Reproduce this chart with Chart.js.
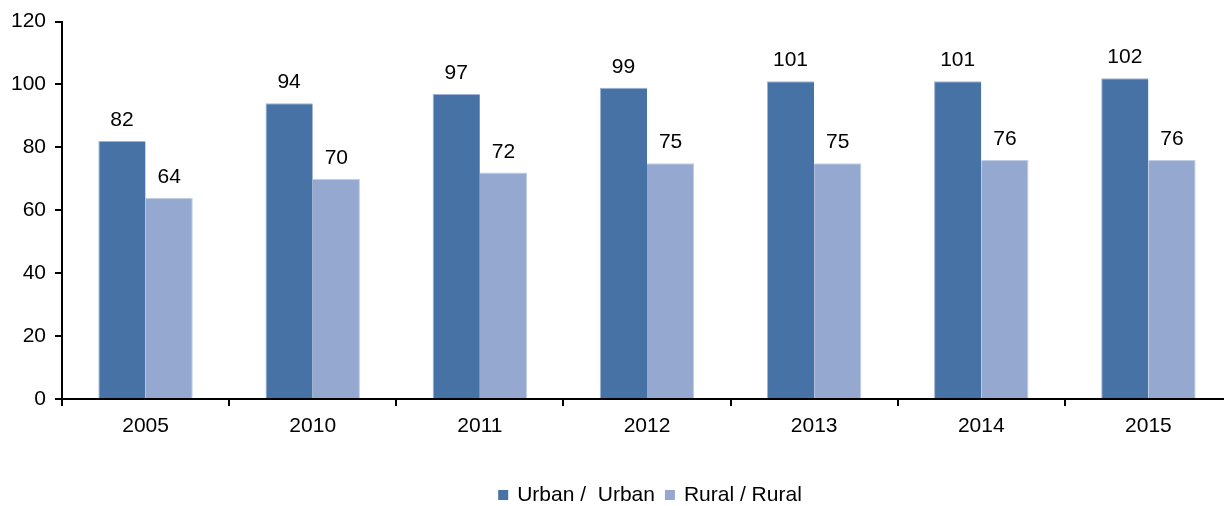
<!DOCTYPE html>
<html>
<head>
<meta charset="utf-8">
<script src="https://cdn.jsdelivr.net/npm/chart.js@4"></script>
<style>
  html, body { margin: 0; padding: 0; background: #fff; overflow: hidden; }
  #wrap { width: 1224px; height: 506px; overflow: hidden; }
  #c { display: block; }
</style>
</head>
<body>
<div id="wrap"><canvas id="c" width="1232" height="506"></canvas></div>
<script>
const categories = ["2005", "2010", "2011", "2012", "2013", "2014", "2015"];
const urbanValues = [82, 94, 97, 99, 101, 101, 102];
const ruralValues = [64, 70, 72, 75, 75, 76, 76];
const seriesNames = ["Urban /  Urban", "Rural / Rural"];
const yTicks = [0, 20, 40, 60, 80, 100, 120];

const FONT = "'Liberation Sans', Arial, sans-serif";
const FS = 21;

const dataLabels = {
  id: 'dataLabels',
  afterDatasetsDraw(chart) {
    const ctx = chart.ctx;
    ctx.save();
    ctx.font = FS + 'px ' + FONT;
    ctx.fillStyle = '#000';
    ctx.textAlign = 'center';
    ctx.textBaseline = 'alphabetic';
    chart.data.datasets.forEach((ds, i) => {
      const meta = chart.getDatasetMeta(i);
      meta.data.forEach((bar, j) => {
        ctx.fillText(String(ds.data[j]), bar.x, bar.y - 15);
      });
    });
    ctx.restore();
  }
};

const customLegend = {
  id: 'customLegend',
  afterDraw(chart) {
    const ctx = chart.ctx;
    ctx.save();
    ctx.font = FS + 'px ' + FONT;
    ctx.textBaseline = 'middle';
    ctx.textAlign = 'left';
    const box = 10, gapText = 9, gapItem = 10;
    const items = chart.data.datasets.map(ds => ({ text: ds.label, color: ds.backgroundColor, w: ctx.measureText(ds.label).width }));
    let total = 0;
    items.forEach((it, k) => { total += box + gapText + it.w + (k < items.length - 1 ? gapItem : 0); });
    let x = 650 - total / 2;
    const y = 495;
    items.forEach(it => {
      ctx.fillStyle = it.color;
      ctx.fillRect(x, y - 5, box, box);
      x += box + gapText;
      ctx.fillStyle = '#000';
      ctx.fillText(it.text, x, y);
      x += it.w + gapItem;
    });
    ctx.restore();
  }
};

new Chart(document.getElementById('c'), {
  type: 'bar',
  data: {
    labels: categories,
    datasets: [
      { label: seriesNames[0], data: urbanValues, backgroundColor: '#4672A6', borderColor: '#9fb3d6', borderWidth: {top:1,right:0,left:1,bottom:0} },
      { label: seriesNames[1], data: ruralValues, backgroundColor: '#95A9D0', borderColor: '#c3cfe6', borderWidth: {top:1,right:1,left:0,bottom:0} }
    ]
  },
  options: {
    responsive: false,
    animation: false,
    devicePixelRatio: 1,
    layout: { padding: { top: 20, right: 0, left: 0, bottom: 0 } },
    datasets: { bar: { categoryPercentage: 0.565, barPercentage: 1.0 } },
    scales: {
      x: {
        offset: true,
        grid: { offset: true, drawOnChartArea: false, drawTicks: true, tickLength: 7, color: '#000', tickColor: '#000', lineWidth: 2 },
        border: { color: '#000', width: 2 },
        ticks: { color: '#000', font: { family: FONT, size: FS }, padding: 8 },
        afterFit(s) { s.height = 107; }
      },
      y: {
        min: 0, max: 120,
        afterBuildTicks(s) { s.ticks = yTicks.map(v => ({ value: v })); },
        grid: { drawOnChartArea: false, drawTicks: true, tickLength: 7, color: '#000', tickColor: '#000', lineWidth: 2 },
        border: { color: '#000', width: 2 },
        ticks: { color: '#000', font: { family: FONT, size: FS }, padding: 9 },
        afterFit(s) { s.width = 62; }
      }
    },
    plugins: {
      legend: { display: false },
      tooltip: { enabled: false }
    }
  },
  plugins: [dataLabels, customLegend]
});
</script>
</body>
</html>
